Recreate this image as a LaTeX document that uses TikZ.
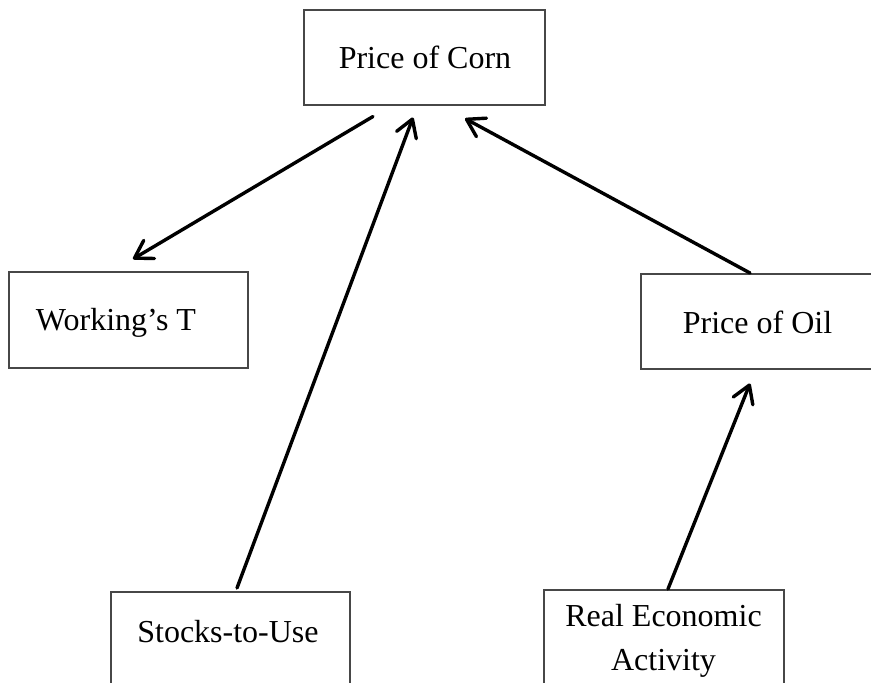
\documentclass[tikz,border=0pt]{standalone}
\usepackage{fontspec}
\setmainfont{Liberation Serif}
\usetikzlibrary{arrows.meta,calc}
\begin{document}
\begin{tikzpicture}[x=1pt,y=-1pt,
  box/.style={draw=black!72,line width=1.5pt,rectangle,inner sep=0pt,anchor=north west},
  lbl/.style={font=\fontsize{32}{44}\selectfont,inner sep=0pt,anchor=base,align=center},
  arr/.style={line width=3.4pt,line cap=round,-{Straight Barb[length=17pt,width=21pt,line cap=round,line join=round]}}]
\useasboundingbox (0,0) rectangle (871,683);
% boxes
\node[box,minimum width=241pt,minimum height=95pt] (corn) at (303,9) {};
\node[box,minimum width=239pt,minimum height=96pt] (work) at (8,271) {};
\node[box,minimum width=236pt,minimum height=95pt] (oil) at (640,273) {};
\node[box,minimum width=239pt,minimum height=110pt] (stocks) at (110,591) {};
\node[box,minimum width=240pt,minimum height=110pt] (rea) at (543,589) {};
% texts
\node[lbl] (tcorn) at (425,68) {Price of Corn};
\node[lbl] (twork) at (116,330) {Working’s T};
\node[lbl] (toil) at (757.5,333) {Price of Oil};
\node[lbl] (tstocks) at (228,642) {Stocks-to-Use};
\node[lbl] (trea) at (663.5,670) {Real Economic\\Activity};
% connector ends
\coordinate (a1s) at ($(corn.south west)+(70,11)$);
\coordinate (a1e) at ($(work.north west)+(125,-12)$);
\coordinate (a2s) at ($(stocks.north west)+(127,-3)$);
\coordinate (a2e) at ($(corn.south west)+(110,12)$);
\coordinate (a3s) at ($(oil.north west)+(110,0)$);
\coordinate (a3e) at ($(corn.south west)+(162,13)$);
\coordinate (a4s) at ($(rea.north west)+(125,0)$);
\coordinate (a4e) at ($(oil.south west)+(110,14)$);
% connectors
\draw[arr] (a1s) -- (a1e);
\draw[arr] (a2s) -- (a2e);
\draw[arr] (a3s) -- (a3e);
\draw[arr] (a4s) -- (a4e);
\end{tikzpicture}
\end{document}
